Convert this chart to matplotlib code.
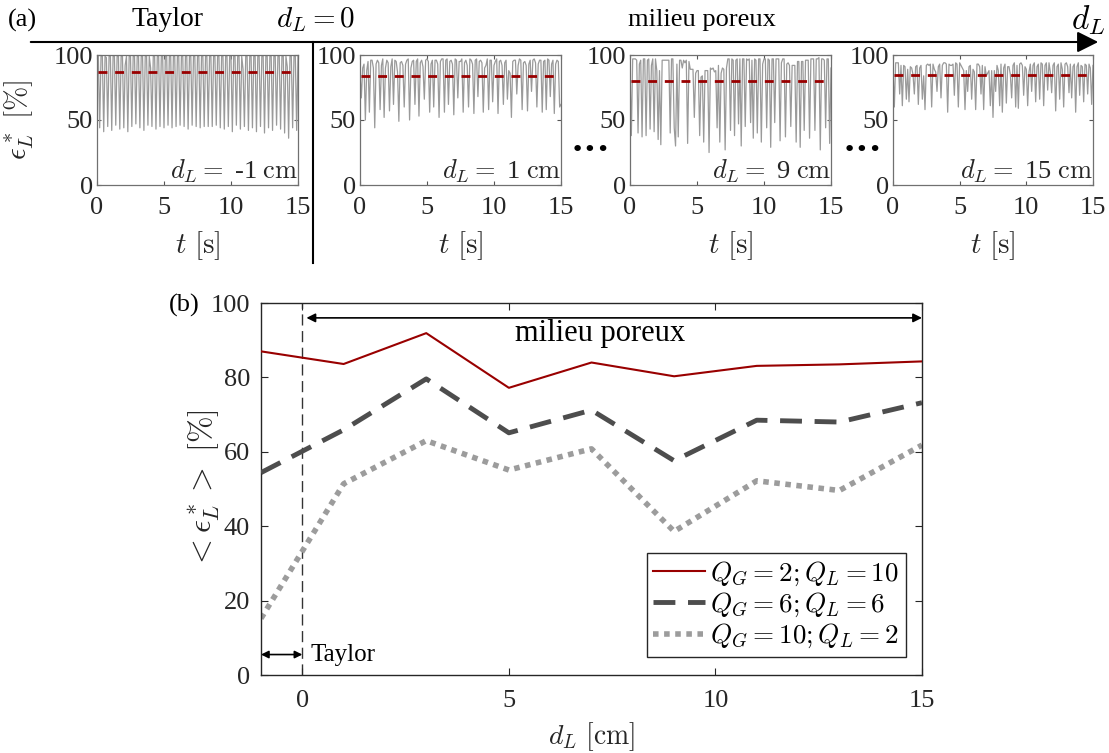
import numpy as np
import matplotlib
matplotlib.use('Agg')
import matplotlib.pyplot as plt
from matplotlib.patches import FancyArrowPatch
from matplotlib.lines import Line2D

plt.rcParams['font.family'] = 'serif'
plt.rcParams['font.serif'] = ['Liberation Serif', 'DejaVu Serif']
plt.rcParams['mathtext.fontset'] = 'cm'
plt.rcParams['font.size'] = 18

W, H = 1109, 753

# ── (b) mean liquid fraction vs d_L ──────────────────────────────────────────
d_L = [-1, 1, 3, 5, 7, 9, 11, 13, 15]
eps_q2_10 = [87.0, 83.6, 91.9, 77.2, 84.0, 80.3, 83.1, 83.5, 84.3]
eps_q6_6 = [54.4, 65.9, 79.6, 65.1, 71.2, 57.6, 68.5, 68.0, 73.2]
eps_q10_2 = [15.2, 51.4, 63.0, 55.1, 60.8, 38.6, 52.2, 49.6, 61.8]
series_labels = [r'$Q_G = 2; Q_L = 10$', r'$Q_G = 6; Q_L = 6$', r'$Q_G = 10; Q_L = 2$']

# ── (a) time signals eps*_L(t), Q_G=2, Q_L=10, sampled every 0.1 s ───────────
sig_m1 = [99, 99, 44, 99, 99, 41, 99, 98, 45, 99, 99, 42, 99, 99, 46,
          99, 99, 43, 99, 99, 44, 92, 99, 41, 99, 99, 45, 99, 99, 47,
          99, 99, 44, 99, 99, 42, 99, 99, 46, 99, 90, 45, 99, 99, 43,
          99, 99, 45, 99, 99, 44, 99, 99, 46, 99, 99, 44, 99, 99, 45,
          99, 99, 46, 99, 99, 45, 99, 99, 43, 99, 99, 46, 99, 99, 45,
          99, 99, 44, 99, 99, 45, 99, 99, 45, 99, 99, 45, 99, 99, 46,
          99, 99, 44, 99, 99, 43, 99, 99, 45, 99, 99, 41, 99, 99, 46,
          99, 99, 43, 99, 89, 45, 99, 99, 42, 99, 99, 44, 99, 99, 41,
          99, 99, 45, 99, 99, 40, 99, 99, 44, 99, 99, 42, 99, 99, 46,
          99, 99, 43, 99, 99, 40, 99, 91, 36, 99, 99, 44, 99, 99, 42, 99]
sig_1 = [86, 67, 90, 93, 50, 88, 95, 56, 96, 96, 90, 44, 93, 96, 94,
         58, 92, 97, 52, 90, 96, 94, 57, 91, 97, 62, 96, 95, 87, 49,
         94, 95, 92, 60, 93, 96, 97, 50, 90, 95, 96, 62, 95, 97, 53,
         94, 96, 91, 66, 96, 97, 95, 56, 93, 96, 60, 96, 96, 93, 52,
         95, 97, 97, 56, 96, 97, 62, 95, 96, 93, 54, 97, 96, 67, 95,
         95, 97, 56, 94, 96, 92, 60, 97, 96, 93, 55, 96, 97, 68, 95,
         96, 94, 56, 90, 92, 97, 58, 96, 96, 64, 92, 95, 97, 55, 95,
         96, 92, 62, 94, 96, 66, 88, 86, 52, 95, 96, 96, 70, 92, 97,
         96, 58, 94, 95, 92, 57, 93, 96, 72, 96, 97, 94, 60, 93, 96,
         96, 56, 95, 96, 58, 97, 96, 68, 93, 96, 55, 93, 96, 95, 60, 62]
sig_9 = [92, 38, 97, 97, 97, 96, 40, 93, 96, 37, 97, 97, 38, 96, 97,
         43, 92, 97, 41, 97, 88, 35, 88, 31, 96, 96, 96, 96, 96, 96,
         40, 97, 97, 44, 30, 93, 37, 96, 96, 90, 96, 94, 96, 32, 95,
         89, 89, 89, 52, 86, 88, 88, 38, 83, 84, 33, 88, 88, 88, 25,
         90, 89, 90, 87, 88, 44, 92, 33, 86, 90, 89, 27, 90, 97, 97,
         42, 97, 96, 38, 96, 97, 47, 97, 30, 97, 97, 45, 97, 96, 97,
         48, 96, 36, 97, 96, 40, 97, 97, 33, 93, 97, 97, 44, 97, 96,
         29, 97, 97, 48, 97, 97, 97, 34, 94, 97, 97, 37, 93, 94, 92,
         45, 92, 92, 92, 33, 95, 95, 29, 95, 95, 42, 96, 96, 96, 36,
         97, 97, 97, 42, 97, 97, 98, 27, 97, 97, 96, 44, 97, 97, 32, 90]
sig_15 = [90, 60, 94, 94, 94, 70, 92, 61, 92, 91, 66, 89, 64, 91, 90,
          85, 70, 91, 92, 62, 90, 92, 66, 84, 58, 92, 93, 92, 93, 60,
          93, 89, 87, 72, 91, 93, 67, 92, 94, 94, 93, 56, 93, 92, 92,
          93, 69, 94, 93, 60, 94, 92, 90, 88, 58, 88, 72, 91, 92, 66,
          89, 87, 58, 93, 93, 91, 70, 92, 58, 91, 84, 86, 88, 61, 88,
          52, 88, 72, 92, 88, 61, 93, 56, 90, 93, 63, 91, 91, 85, 67,
          92, 94, 60, 92, 59, 93, 94, 92, 69, 91, 89, 61, 87, 93, 72,
          92, 94, 64, 91, 93, 66, 94, 93, 61, 92, 94, 73, 94, 87, 71,
          92, 94, 57, 91, 93, 66, 94, 89, 60, 93, 94, 91, 71, 93, 67,
          91, 93, 56, 91, 94, 69, 92, 91, 64, 93, 92, 70, 93, 90, 62, 92]
panel_signals = [sig_m1, sig_1, sig_9, sig_15]
panel_dL = ['-1', '1', '9', '15']
panel_mean = [87.0, 83.6, 80.3, 84.3]

RED = '#990000'
INK = '#262626'


def fx(x):
    return x / W


def fy(y):
    return 1 - y / H


fig = plt.figure(figsize=(W / 100, H / 100), dpi=100)

# ── top panels ────────────────────────────────────────────────────────────────
panel_px = [(97, 298), (360, 561), (630, 831), (893, 1093)]
for i, ((l, r), sig, lab, mval) in enumerate(zip(panel_px, panel_signals,
                                                 panel_dL, panel_mean)):
    ax = fig.add_axes([fx(l), fy(185), (r - l) / W, 130 / H])
    t = np.arange(len(sig)) * 0.1
    ax.plot(t, sig, color='#9a9a9a', lw=0.9, zorder=2)
    ax.plot([0.05, 14.85], [mval, mval], color=RED, lw=2.0, ls=(0, (3.2, 2.8)),
            zorder=3)
    ax.set_xlim(0, 15)
    ax.set_ylim(0, 100)
    ax.set_xticks([0, 5, 10, 15])
    ax.set_yticks([0, 50, 100])
    ax.tick_params(direction='in', top=True, right=True, length=3,
                   color='#555555', labelsize=19, labelcolor=INK)
    ax.tick_params(axis='x', pad=9)
    ax.tick_params(axis='y', pad=3)
    for s in ax.spines.values():
        s.set_color('#707070')
        s.set_linewidth(0.9)
    ax.set_xlabel(r'$t\ [\mathrm{s}]$', fontsize=21, labelpad=7, color=INK)
    ax.text(1.0, 0.0, r'$d_L =$' + f' {lab} ' + r'$\mathrm{cm}$',
            transform=ax.transAxes, ha='right', va='bottom', fontsize=19,
            color=INK)
    if i == 0:
        ax.set_ylabel(r'$\epsilon^*_L\ [\%]$', fontsize=21, color=INK)
        ax.yaxis.set_label_coords(-(97 - 36) / (r - l), 0.5)

# figure-level annotations for (a)
fig.add_artist(FancyArrowPatch((fx(28), fy(42)), (fx(1101), fy(42)),
                               transform=fig.transFigure, arrowstyle='-|>',
                               mutation_scale=32, lw=1.5, color='black'))
fig.add_artist(Line2D([fx(313), fx(313)], [fy(42), fy(263)],
                      transform=fig.transFigure, color='black', lw=1.5))
fig.text(fx(8), fy(20), '(a)', fontsize=19, va='center', ha='left')
fig.text(fx(168), fy(20), 'Taylor', fontsize=20, va='center', ha='center')
fig.text(fx(316), fy(20), r'$d_L = 0$', fontsize=21, va='center', ha='center')
fig.text(fx(702), fy(20), 'milieu poreux', fontsize=19, va='center',
         ha='center')
fig.text(fx(1088), fy(20), r'$d_L$', fontsize=24, va='center', ha='center')
for xc in (590, 862):
    fig.text(fx(xc), fy(150), '\u2022\u2022\u2022', fontsize=16,
             family='DejaVu Sans', va='center', ha='center')
fig.text(fx(184), fy(305), '(b)', fontsize=19, va='center', ha='center')

# ── bottom panel (b) ──────────────────────────────────────────────────────────
axb = fig.add_axes([fx(261), fy(675), 661 / W, 372 / H])
axb.plot(d_L, eps_q2_10, color=RED, lw=1.5, label=series_labels[0], zorder=4)
axb.plot(d_L, eps_q6_6, color='#4d4d4d', lw=3.5, ls=(0, (4.5, 2.6)),
         label=series_labels[1], zorder=3)
axb.plot(d_L, eps_q10_2, color='#9c9c9c', lw=4.0, ls=(0, (1.0, 1.0)),
         label=series_labels[2], zorder=2)
axb.axvline(0, color='#333333', lw=1.0, ls=(0, (8, 4)), zorder=1)

axb.annotate('', xy=(0.1, 96), xytext=(15, 96),
             arrowprops=dict(arrowstyle='<|-|>', lw=1.2, color='black',
                             mutation_scale=13, shrinkA=0, shrinkB=0))
axb.text(7.2, 91.8, 'milieu poreux', fontsize=22, ha='center', va='center')
axb.annotate('', xy=(-1, 5.5), xytext=(0, 5.5),
             arrowprops=dict(arrowstyle='<|-|>', lw=1.2, color='black',
                             mutation_scale=11, shrinkA=0, shrinkB=0))
axb.text(0.2, 5.5, 'Taylor', fontsize=18, ha='left', va='center')

axb.set_xlim(-1, 15)
axb.set_ylim(0, 100)
axb.set_xticks([0, 5, 10, 15])
axb.set_yticks([0, 20, 40, 60, 80, 100])
axb.tick_params(direction='in', top=True, right=True, length=5,
                color=INK, labelsize=19, labelcolor=INK)
axb.tick_params(axis='x', pad=11)
axb.tick_params(axis='y', pad=8)
for s in axb.spines.values():
    s.set_color(INK)
    s.set_linewidth(1.0)
axb.set_xlabel(r'$d_L\ [\mathrm{cm}]$', fontsize=20, color=INK)
axb.xaxis.set_label_coords(0.5, -(720 - 675) / 372)
axb.set_ylabel(r'$<\epsilon^*_L>\ [\%]$', fontsize=23, color=INK)
axb.yaxis.set_label_coords(-(261 - 222) / 661, 0.5)

leg = axb.legend(loc='lower right', bbox_to_anchor=(1 - 16 / 661, 18 / 372),
                 borderaxespad=0, fontsize=19.5, fancybox=False, framealpha=1,
                 edgecolor=INK, handlelength=1.9, handletextpad=0.2,
                 labelspacing=0.1, borderpad=0.25)
leg.get_frame().set_linewidth(1.0)

fig.savefig('out.png', dpi=100, facecolor='white')
